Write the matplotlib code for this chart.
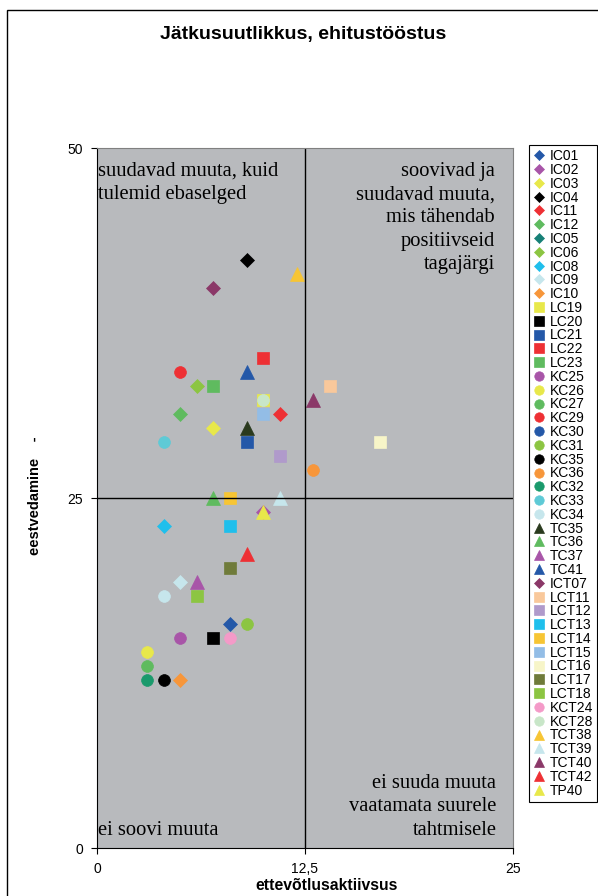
import numpy as np
import matplotlib
matplotlib.use("Agg")
import matplotlib.pyplot as plt
from matplotlib.patches import Rectangle

# series (each company is its own series in the original)
labels = ["IC01", "IC02", "IC03", "IC04", "IC11", "IC12", "IC05", "IC06", "IC08", "IC09",
          "IC10", "LC19", "LC20", "LC21", "LC22", "LC23", "KC25", "KC26", "KC27", "KC29",
          "KC30", "KC31", "KC35", "KC36", "KC32", "KC33", "KC34", "TC35", "TC36", "TC37",
          "TC41", "ICT07", "LCT11", "LCT12", "LCT13", "LCT14", "LCT15", "LCT16", "LCT17",
          "LCT18", "KCT24", "KCT28", "TCT38", "TCT39", "TCT40", "TCT42", "TP40"]
x_vals = [8, 10, 7, 9, 11, 5, np.nan, 6, 4, 5,
          5, 10, 7, 9, 10, 7, 5, 3, 3, 5,
          np.nan, 9, 4, 13, 3, 4, 4, 9, 7, 6,
          9, 7, 14, 11, 8, 8, 10, 17, 8,
          6, 8, 10, 12, 11, 13, 9, 10]
y_vals = [16, 24, 30, 42, 31, 31, np.nan, 33, 23, 19,
          12, 32, 15, 29, 35, 33, 15, 14, 13, 34,
          np.nan, 16, 12, 27, 12, 29, 18, 30, 25, 19,
          34, 40, 33, 28, 23, 25, 31, 29, 20,
          18, 15, 32, 41, 25, 32, 21, 24]
colors = ["#2458a8", "#a855a8", "#e8e84a", "#000000", "#ee3034", "#5fbb5f", "#178077", "#8cc542", "#1fbfec", "#c6e6ec",
          "#f7963a", "#e8e84a", "#000000", "#2458a8", "#ee3034", "#5fbb5f", "#a855a8", "#e8e84a", "#5fbb5f", "#ee3034",
          "#2458a8", "#8cc542", "#000000", "#f7963a", "#1a9a6c", "#5ecad6", "#c6e6ec", "#2a3a1e", "#5fbb5f", "#a855a8",
          "#2458a8", "#8b3868", "#f9c89b", "#b09acb", "#1fbfec", "#f7c534", "#93bde6", "#f7f5c8", "#6f7b3a",
          "#8cc542", "#f49ac8", "#c8e6c8", "#f7c534", "#c6e6ec", "#8b3868", "#ee3034", "#e8e84a"]

x_ticks = [0, 12.5, 25]
x_ticklabels = ["0", "12,5", "25"]
y_ticks = [0, 25, 50]

shape = {"IC": ("D", 6.8), "LC": ("s", 8.6), "KC": ("o", 8.5), "TC": ("^", 9.5), "TP": ("^", 9.5)}

sans = "Liberation Sans"
serif = "Liberation Serif"

fig = plt.figure(figsize=(5.98, 8.96), dpi=100)
ax = fig.add_axes([97 / 598, 48 / 896, 416 / 598, 700 / 896])
ax.set_facecolor("#b8babd")

for name, x, y, c in zip(labels, x_vals, y_vals, colors):
    m, ms = shape[name[:2]]
    ax.plot([x], [y], linestyle="", marker=m, ms=ms, color=c, mec=c, mew=0.5, label=name)

ax.axvline(12.5, color="black", lw=1)
ax.axhline(25, color="black", lw=1)

ax.set_xlim(0, 25)
ax.set_ylim(0, 50)
ax.set_xticks(x_ticks)
ax.set_xticklabels(x_ticklabels)
ax.set_yticks(y_ticks)
ax.tick_params(direction="out", length=4, width=0.8, labelsize=10, pad=6)
for lab in ax.get_xticklabels() + ax.get_yticklabels():
    lab.set_family(sans)
for s in ["top", "right"]:
    ax.spines[s].set_color("#808080")
for s in ["left", "bottom"]:
    ax.spines[s].set_color("black")

# quadrant notes
qfont = dict(family=serif, fontsize=14.8, linespacing=1.3)
ax.text(0.05, 49.0, "suudavad muuta, kuid\ntulemid ebaselged", ha="left", va="top", **qfont)
ax.text(23.9, 49.0, "soovivad ja\nsuudavad muuta,\nmis tähendab\npositiivseid\ntagajärgi",
        ha="right", va="top", multialignment="right", **qfont)
ax.text(24.0, 0.6, "ei suuda muuta\nvaatamata suurele\ntahtmisele",
        ha="right", va="bottom", multialignment="right", **qfont)
ax.text(0.05, 0.6, "ei soovi muuta", ha="left", va="bottom", **qfont)

fig.text(303 / 598, 1 - 34 / 896, "Jätkusuutlikkus, ehitustööstus", ha="center", va="center",
         family=sans, fontsize=14, fontweight="bold")
fig.text(327 / 598, 1 - 885 / 896, "ettevõtlusaktiivsus", ha="center", va="center",
         family=sans, fontsize=11.3, fontweight="bold")
fig.text(35 / 598, 1 - 496 / 896, "eestvedamine    -", ha="center", va="center", rotation=90,
         family=sans, fontsize=10.5, fontweight="bold")

leg = ax.legend(loc="upper left", bbox_to_anchor=(529 / 598, 1 - 145 / 896),
                bbox_transform=fig.transFigure, borderaxespad=0, frameon=True,
                fancybox=False, edgecolor="black", framealpha=1,
                prop={"family": sans, "size": 10}, markerscale=0.8,
                handlelength=0.8, handletextpad=0.4, labelspacing=-0.015,
                borderpad=0.3, numpoints=1)
leg.get_frame().set_linewidth(0.8)

# outer frame of the chart area
fig.patches.append(Rectangle((7 / 598, -0.1), 1.2, 1.1 - 10 / 896, transform=fig.transFigure,
                             fill=False, edgecolor="black", lw=1))

fig.savefig("out.png", dpi=100)
